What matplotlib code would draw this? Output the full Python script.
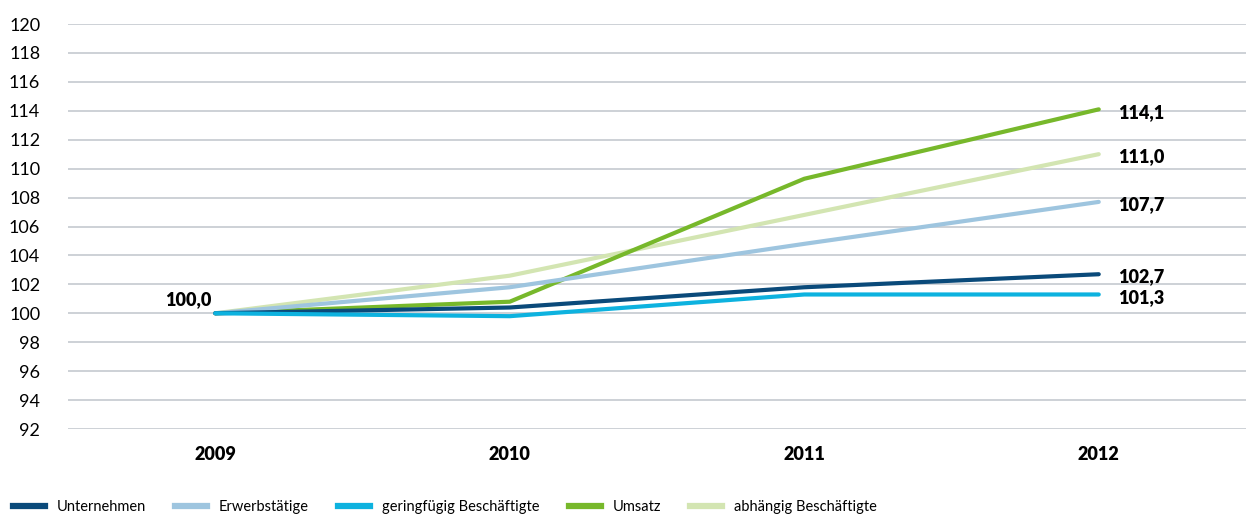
import matplotlib.pyplot as plt
from matplotlib.lines import Line2D

plt.rcParams['font.family'] = ['Lato', 'DejaVu Sans']

years = ['2009', '2010', '2011', '2012']
unternehmen = [100.0, 100.4, 101.8, 102.7]
erwerbstaetige = [100.0, 101.8, 104.8, 107.7]
geringfuegig = [100.0, 99.8, 101.3, 101.3]
umsatz = [100.0, 100.8, 109.3, 114.1]
abhaengig = [100.0, 102.6, 106.8, 111.0]

series = [
    ('Unternehmen', unternehmen, '#0a4a7a'),
    ('Erwerbstätige', erwerbstaetige, '#9ec5df'),
    ('geringfügig Beschäftigte', geringfuegig, '#0db2df'),
    ('Umsatz', umsatz, '#77b82b'),
    ('abhängig Beschäftigte', abhaengig, '#d3e5b2'),
]
draw_order = [4, 3, 1, 0, 2]

fig = plt.figure(figsize=(12.46, 5.16), dpi=100)
ax = fig.add_axes([68 / 1246, 87 / 516, 1178 / 1246, 405 / 516])

x = range(len(years))
for z, i in enumerate(draw_order):
    name, vals, col = series[i]
    ax.plot(x, vals, color=col, lw=3.0, solid_capstyle='round', zorder=3 + z)

# end labels
for name, vals, col in series:
    ax.annotate(f'{vals[-1]:.1f}'.replace('.', ','), (3, vals[-1]),
                xytext=(14, -2), textcoords='offset points',
                ha='left', va='center', fontsize=13, fontweight='heavy')
ax.annotate('100,0', (0, 100.0), xytext=(-3, 10), textcoords='offset points',
            ha='right', va='center', fontsize=13, fontweight='heavy')

ax.set_xlim(-0.5, 3.5)
ax.set_ylim(92, 120)
ax.set_yticks(range(92, 121, 2))
ax.set_xticks(list(x))
ax.set_xticklabels(years, fontweight='heavy')
ax.tick_params(axis='y', length=0, pad=20, labelsize=13)
ax.tick_params(axis='x', length=0, pad=12, labelsize=13)
ax.grid(axis='y', color='#c9ced3', lw=1.3)
ax.set_axisbelow(True)
for s in ax.spines.values():
    s.set_visible(False)

handles = [Line2D([], [], color=c, lw=4.5) for _, _, c in series]
fig.legend(handles, [n for n, _, _ in series], loc='lower left',
           bbox_to_anchor=(0.0, -0.022), ncol=5, frameon=False, fontsize=10.5,
           handlelength=2.2, handletextpad=0.8, columnspacing=2.0)

fig.savefig('out.png', dpi=100)
